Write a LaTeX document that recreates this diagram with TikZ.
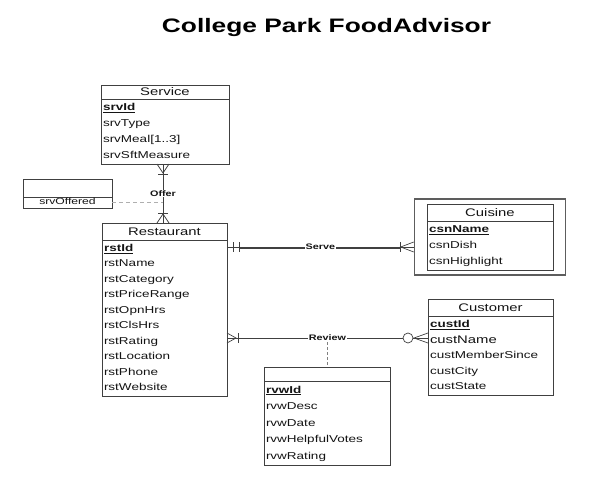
\documentclass[tikz,border=0pt]{standalone}
\usepackage{fontspec}
\setmainfont[FakeStretch=1.35]{Liberation Sans}
\usetikzlibrary{positioning,fit}
\definecolor{ErdLine}{RGB}{64,64,64}
\definecolor{ErdText}{RGB}{20,20,20}
\definecolor{ErdDash}{RGB}{175,175,175}

\begin{document}
\begin{tikzpicture}[x=1pt, y=1pt, node distance=0pt]
    \tikzstyle{ehead}=[draw=ErdLine, line width=0.9pt, fill=white, text=ErdText, inner sep=0pt, outer sep=0pt, minimum height=17pt, font=\fontsize{11}{13}\selectfont]
    \tikzstyle{ebody}=[draw=ErdLine, line width=0.9pt, fill=white, text=ErdText, inner xsep=2pt, inner ysep=0.5pt, outer sep=0pt, align=left, execute at begin node=\strut, execute at end node=\strut]
    \tikzstyle{rel}=[draw=ErdLine, line width=0.7pt]
    \tikzstyle{lbl}=[fill=white, text=ErdText, inner sep=1pt, font=\bfseries\fontsize{8}{9}\selectfont]
    \useasboundingbox (0,0) rectangle (592,-482);

    \node[font=\bfseries\fontsize{19.5}{22}\selectfont, anchor=base] (title) at (326.5,-32) {College Park FoodAdvisor};

    % entities
    \node[ehead, minimum width=128pt, minimum height=14pt] (svcHead) at (165,-92) {Service};
    \node[ebody, text width=124pt, font=\fontsize{10}{16}\selectfont, below=of svcHead] (svcBody) {\underline{\textbf{srvId}}\\srvType\\srvMeal[1..3]\\srvSftMeasure};

    \node[ehead, minimum width=89pt, minimum height=18pt] (offHead) at (67.5,-188) {};
    \node[ebody, text width=85pt, align=center, font=\fontsize{9}{10.5}\selectfont, below=of offHead] (offBody) {srvOffered};

    \node[ehead, minimum width=125pt] (rstHead) at (164.5,-231.5) {Restaurant};
    \node[ebody, text width=121pt, font=\fontsize{10}{15.5}\selectfont, below=of rstHead] (rstBody) {\underline{\textbf{rstId}}\\rstName\\rstCategory\\rstPriceRange\\rstOpnHrs\\rstClsHrs\\rstRating\\rstLocation\\rstPhone\\rstWebsite};

    \node[ehead, minimum width=126pt] (csnHead) at (490,-212.5) {Cuisine};
    \node[ebody, text width=122pt, font=\fontsize{10}{16}\selectfont, below=of csnHead] (csnBody) {\underline{\textbf{csnName}}\\csnDish\\csnHighlight};
    \node[draw=ErdLine!85, line width=1.6pt, inner xsep=12.5pt, inner ysep=5pt, fit=(csnHead)(csnBody)] (csnOuter) {};

    \node[ehead, minimum width=125pt] (custHead) at (490.5,-307.5) {Customer};
    \node[ebody, text width=121pt, font=\fontsize{10}{15.6}\selectfont, below=of custHead] (custBody) {\underline{\textbf{custId}}\\{\fontsize{11}{15.6}\selectfont custName}\\custMemberSince\\custCity\\custState};

    \node[ehead, minimum width=126pt, minimum height=14pt] (rvwHead) at (327,-374) {};
    \node[ebody, text width=122pt, font=\fontsize{10}{16.6}\selectfont, below=of rvwHead] (rvwBody) {\underline{\textbf{rvwId}}\\rvwDesc\\rvwDate\\rvwHelpfulVotes\\rvwRating};

    % Offer
    \coordinate (of1) at ([xshift=-2pt]svcBody.south);
    \coordinate (of2) at (of1 |- rstHead.north);
    \draw[rel] (of1) -- node[lbl] (ofLbl) {Offer} (of2);
    \draw[rel] ([xshift=-6pt]of1) -- ([yshift=-9pt]of1) -- ([xshift=6pt]of1);
    \draw[rel] ([xshift=-5pt,yshift=-10pt]of1) -- ([xshift=5pt,yshift=-10pt]of1);
    \draw[rel] ([xshift=-6pt]of2) -- ([yshift=9pt]of2) -- ([xshift=6pt]of2);
    \draw[rel] ([xshift=-5pt,yshift=10pt]of2) -- ([xshift=5pt,yshift=10pt]of2);
    \draw[ErdDash, line width=0.9pt, dash pattern=on 4pt off 3pt] (offBody.east) -- (offBody.east -| of1);

    % Serve
    \coordinate (sv1) at ([yshift=-7pt]rstBody.north east);
    \coordinate (sv2) at (sv1 -| csnOuter.west);
    \draw[rel] ([xshift=13pt,yshift=-1.7pt]sv1) -- ([xshift=-13pt,yshift=-1.7pt]sv2);
    \draw[rel] (sv1) -- node[lbl, inner ysep=2pt] (svLbl) {Serve} (sv2);
    \draw[rel] ([xshift=6pt,yshift=5pt]sv1) -- ([xshift=6pt,yshift=-5pt]sv1);
    \draw[rel] ([xshift=12pt,yshift=5pt]sv1) -- ([xshift=12pt,yshift=-5pt]sv1);
    \draw[rel] ([yshift=5pt]sv2) -- ([xshift=-13pt]sv2) -- ([yshift=-5pt]sv2);
    \draw[rel] ([xshift=-13pt,yshift=5pt]sv2) -- ([xshift=-13pt,yshift=-5pt]sv2);

    % Review
    \coordinate (rv1) at ([yshift=-98pt]rstBody.north east);
    \coordinate (rv2) at (rv1 -| custBody.west);
    \draw[rel] (rv1) -- node[lbl] (rvLbl) {Review} (rv2);
    \draw[rel] ([yshift=5pt]rv1) -- ([xshift=9pt]rv1) -- ([yshift=-5pt]rv1);
    \draw[rel] ([xshift=11pt,yshift=5pt]rv1) -- ([xshift=11pt,yshift=-5pt]rv1);
    \draw[rel] ([yshift=5pt]rv2) -- ([xshift=-14pt]rv2) -- ([yshift=-5pt]rv2);
    \draw[rel, fill=white] ([xshift=-20pt]rv2) circle (5pt);
    \draw[gray, line width=0.9pt, dash pattern=on 3pt off 2pt] (rvLbl.south) -- (rvLbl.south |- rvwHead.north);
\end{tikzpicture}
\end{document}
